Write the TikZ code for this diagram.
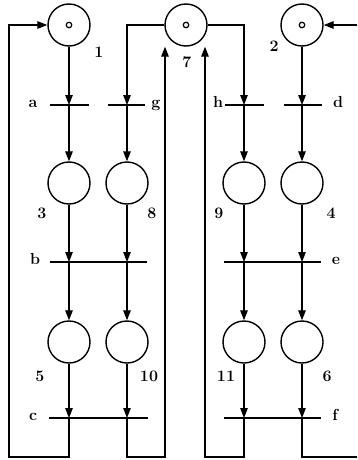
\documentclass[tikz,border=0pt]{standalone}
\usetikzlibrary{arrows.meta}
\begin{document}
\begin{tikzpicture}[x=1pt,y=-1pt,
  place/.style={circle, draw, line width=1.4pt, minimum size=42pt, inner sep=0pt},
  token/.style={circle, draw, line width=1.2pt, minimum size=5.5pt, inner sep=0pt},
  trans/.style={rectangle, fill=black, inner sep=0pt, minimum height=1.8pt},
  lbl/.style={font=\fontsize{16}{18}\selectfont\bfseries, inner sep=0pt},
  conn/.style={line width=1.3pt},
  arc/.style={line width=1.3pt, -{Triangle[length=10pt,width=7.5pt]}}]
\useasboundingbox (0,0) rectangle (357,460);
% places
\node[place] (p1) at (69,25) {};
\node[place] (p7) at (186,25) {};
\node[place] (p2) at (302,25) {};
\node[place] (p3) at (69,183) {};
\node[place] (p8) at (127,183) {};
\node[place] (p9) at (244,183) {};
\node[place] (p4) at (302,183) {};
\node[place] (p5) at (69,342) {};
\node[place] (p10) at (127,342) {};
\node[place] (p11) at (244,342) {};
\node[place] (p6) at (302,342) {};
% tokens
\node[token] (k1) at (p1) {};
\node[token] (k7) at (p7) {};
\node[token] (k2) at (p2) {};
% transitions
\node[trans, minimum width=39pt] (ta) at (69.5,105) {};
\node[trans, minimum width=37pt] (tg) at (126.5,105) {};
\node[trans, minimum width=39pt] (th) at (244.5,105) {};
\node[trans, minimum width=38pt] (td) at (303,105) {};
\node[trans, minimum width=97pt] (tb) at (98.5,262) {};
\node[trans, minimum width=97pt] (te) at (272.5,262) {};
\node[trans, minimum width=99pt] (tc) at (98,418) {};
\node[trans, minimum width=97pt] (tf) at (272.5,418) {};
% labels
\node[lbl] (n1) at (99,52) {1};
\node[lbl] (n7) at (187,62) {7};
\node[lbl] (n2) at (274,46) {2};
\node[lbl] (n3) at (42,213) {3};
\node[lbl] (n8) at (152,213) {8};
\node[lbl] (n9) at (219,213) {9};
\node[lbl] (n4) at (331,213) {4};
\node[lbl] (n5) at (40,376) {5};
\node[lbl] (n10) at (149,376) {10};
\node[lbl] (n11) at (226,376) {11};
\node[lbl] (n6) at (327,376) {6};
\node[lbl, anchor=mid] (la) at (33,105) {a};
\node[lbl, anchor=mid] (lg) at (156,105) {g};
\node[lbl, anchor=mid] (lh) at (218,105) {h};
\node[lbl, anchor=mid] (ld) at (338,105) {d};
\node[lbl, anchor=mid] (lb) at (35,262) {b};
\node[lbl, anchor=mid] (le) at (336,262) {e};
\node[lbl, anchor=mid] (lc) at (33,418) {c};
\node[lbl, anchor=mid] (lf) at (335,418) {f};
% top arcs
\draw[arc] (p1.south) -- (p1 |- ta.center);
\draw[arc] (p1 |- ta.center) -- (p3.north);
\draw[arc] (p7.west) -| (p8 |- tg.center);
\draw[arc] (p8 |- tg.center) -- (p8.north);
\draw[arc] (p7.east) -| (p9 |- th.center);
\draw[arc] (p9 |- th.center) -- (p9.north);
\draw[arc] (p2.south) -- (p4 |- td.center);
\draw[arc] (p4 |- td.center) -- (p4.north);
% middle arcs
\draw[arc] (p3.south) -- (p3 |- tb.center);
\draw[arc] (p3 |- tb.center) -- (p5.north);
\draw[arc] (p8.south) -- (p8 |- tb.center);
\draw[arc] (p8 |- tb.center) -- (p10.north);
\draw[arc] (p9.south) -- (p9 |- te.center);
\draw[arc] (p9 |- te.center) -- (p11.north);
\draw[arc] (p4.south) -- (p4 |- te.center);
\draw[arc] (p4 |- te.center) -- (p6.north);
% bottom arcs
\draw[arc] (p5.south) -- (p5 |- tc.center);
\draw[arc] (p10.south) -- (p10 |- tc.center);
\draw[arc] (p11.south) -- (p11 |- tf.center);
\draw[arc] (p6.south) -- (p6 |- tf.center);
% loops
\coordinate (l1) at (9,457);
\coordinate (l2) at (165,457);
\coordinate (l3) at (205,457);
\coordinate (l4) at (357,457);
\coordinate (l5) at (357,25);
\draw[arc] (p5 |- tc.center) |- (l1) |- (p1.west);
\draw[arc] (p10 |- tc.center) |- (l2) -- (l2 |- p7.south);
\draw[arc] (p11 |- tf.center) |- (l3) -- (l3 |- p7.south);
\draw[conn] (p6 |- tf.center) |- (l4);
\draw[arc] (l5) -- (p2.east);
\end{tikzpicture}
\end{document}
